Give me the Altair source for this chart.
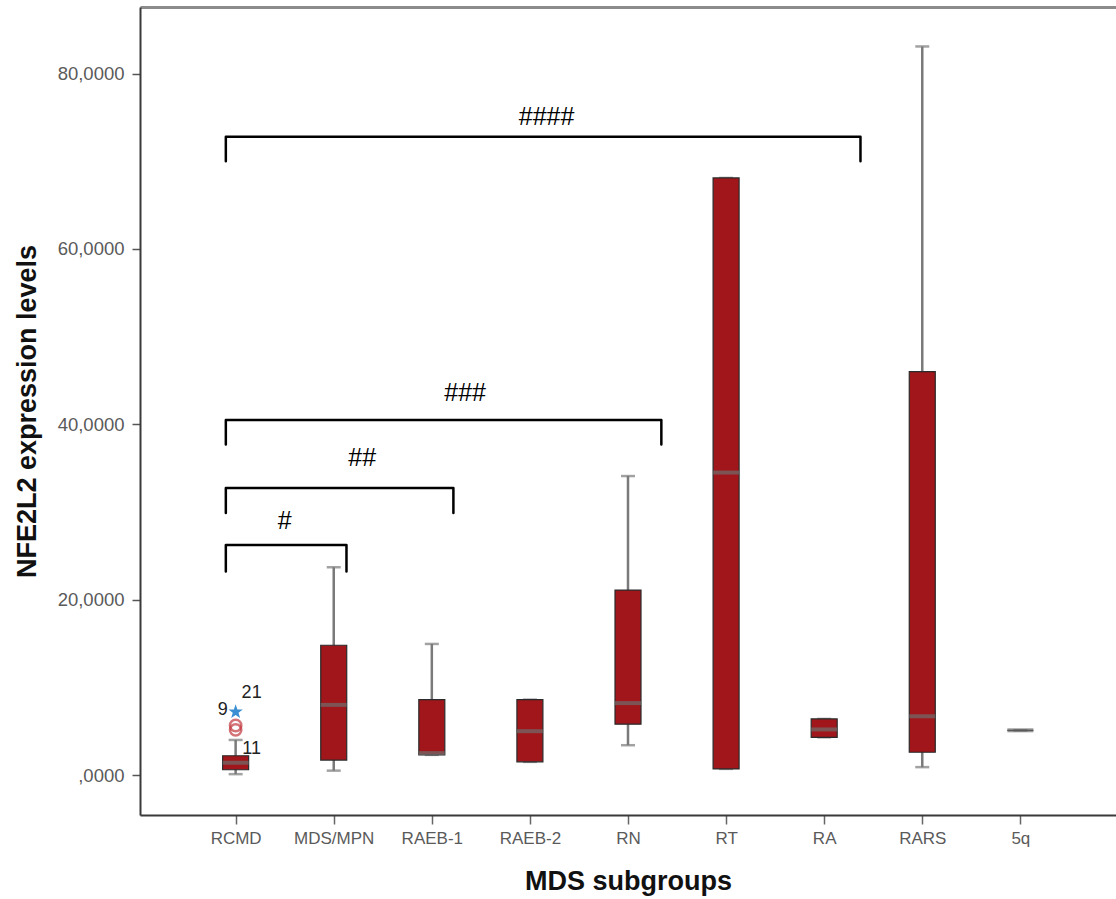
import altair as alt
import pandas as pd

# Box-plot summary per MDS subgroup
groups = ["RCMD", "MDS/MPN", "RAEB-1", "RAEB-2", "RN", "RT", "RA", "RARS", "5q"]
whisker_low = [0.1, 0.5, 2.3, 1.5, 3.4, 0.7, 4.3, 0.9, 5.1]
box_q1 = [0.6, 1.7, 2.3, 1.5, 5.8, 0.7, 4.3, 2.6, 5.1]
box_median = [1.4, 8.0, 2.5, 5.0, 8.2, 34.5, 5.2, 6.7, 5.1]
box_q3 = [2.2, 14.8, 8.6, 8.6, 21.1, 68.1, 6.4, 46.0, 5.1]
whisker_high = [4.0, 23.7, 14.95, 8.6, 34.1, 68.1, 6.4, 83.1, 5.1]

# Outliers (circles) and extreme values (stars)
outlier_group = ["RCMD", "RCMD"]
outlier_values = [5.15, 5.65]
extreme_group = ["RCMD"]
extreme_values = [7.2]

# Case numbers printed next to the RCMD outliers
case_labels = ["9", "21", "11"]
case_values = [7.2, 7.2, 5.4]

# Significance brackets (x in subgroup-index units)
bracket_labels = ["#", "##", "###", "####"]
bracket_left = [-0.10, -0.10, -0.10, -0.10]
bracket_right = [1.13, 2.22, 4.34, 6.37]
bracket_top = [26.25, 32.75, 40.5, 72.8]
bracket_foot = [23.2, 29.9, 37.7, 70.0]
bracket_label_x = [0.50, 1.29, 2.34, 3.17]
bracket_label_y = [29.0, 36.2, 43.6, 75.1]

FONT = "Liberation Sans, Arial, sans-serif"
PAD = 0.975
W, H = 976, 808

yscale = alt.Scale(domain=[-4.56, 87.6], nice=False, zero=False)
y_axis = alt.Axis(
    title="NFE2L2 expression levels",
    values=[0, 20, 40, 60, 80],
    labelExpr="datum.value == 0 ? ',0000' : replace(format(datum.value, '.4f'), '.', ',')",
    grid=False, tickSize=8, tickColor="#555555", tickWidth=1.5,
    domainColor="#3a3a3a", domainWidth=2,
    labelFont=FONT, labelFontSize=18.5, labelColor="#5a5a5a", labelPadding=8,
    titleFont=FONT, titleFontSize=27, titleFontWeight="bold", titleColor="#111111",
    titlePadding=16,
)
xscale = alt.Scale(type="point", domain=groups, padding=PAD)
x_axis = alt.Axis(
    title="MDS subgroups", labelAngle=0, grid=False,
    tickSize=9, tickColor="#666666", tickWidth=1.5,
    domainColor="#3a3a3a", domainWidth=2,
    labelFont=FONT, labelFontSize=17, labelColor="#5a5a5a", labelPadding=6,
    titleFont=FONT, titleFontSize=27, titleFontWeight="bold", titleColor="#111111",
    titlePadding=22,
)


def X():
    return alt.X("group:N", scale=xscale, axis=x_axis, sort=groups)


def Y(field):
    return alt.Y(field, type="quantitative", scale=yscale, axis=y_axis)


box_df = pd.DataFrame({
    "group": groups, "low": whisker_low, "q1": box_q1,
    "median": box_median, "q3": box_q3, "high": whisker_high,
})
base = alt.Chart(box_df)

whiskers = base.mark_rule(color="#7a7a7a", strokeWidth=2.5).encode(
    x=X(), y=Y("low"), y2="high:Q")
caps_low = base.mark_tick(color="#7a7a7a", size=14, thickness=2.5).encode(x=X(), y=Y("low"))
caps_high = base.mark_tick(color="#7a7a7a", size=14, thickness=2.5).encode(x=X(), y=Y("high"))
boxes = base.mark_bar(size=26, color="#a0161a", stroke="#2b2b2b", strokeWidth=1.2).encode(
    x=X(), y=Y("q1"), y2="q3:Q")
medians = base.mark_tick(size=26, thickness=4, color="#6e6e6e").encode(x=X(), y=Y("median"))

out_df = pd.DataFrame({"group": outlier_group, "value": outlier_values})
circles = alt.Chart(out_df).mark_point(
    shape="circle", filled=False, color="#c23a40", strokeWidth=2.5, size=130
).encode(x=X(), y=Y("value"))

STAR = ("M0,-1L0.235,-0.324L0.951,-0.309L0.38,0.124L0.588,0.809L0,0.4"
        "L-0.588,0.809L-0.38,0.124L-0.951,-0.309L-0.235,-0.324Z")
ext_df = pd.DataFrame({"group": extreme_group, "value": extreme_values})
stars = alt.Chart(ext_df).mark_point(
    shape=STAR, filled=True, color="#3b8fd3", size=230, opacity=1
).encode(x=X(), y=Y("value"))

label_offsets = [(-13, -2), (16, -19), (16, 21)]
case_layers = []
for lab, val, (ddx, ddy) in zip(case_labels, case_values, label_offsets):
    df = pd.DataFrame({"group": ["RCMD"], "value": [val], "lab": [lab]})
    case_layers.append(
        alt.Chart(df).mark_text(font=FONT, fontSize=18, color="#222222", dx=ddx, dy=ddy)
        .encode(x=X(), y=Y("value"), text="lab:N")
    )

data_layer = alt.layer(whiskers, caps_low, caps_high, boxes, medians, circles, stars, *case_layers)

# Brackets drawn as 4-point polylines
rows = []
for i, lab in enumerate(bracket_labels):
    pts = [(bracket_left[i], bracket_foot[i]), (bracket_left[i], bracket_top[i]),
           (bracket_right[i], bracket_top[i]), (bracket_right[i], bracket_foot[i])]
    for k, (bx, by) in enumerate(pts):
        rows.append({"bracket": lab, "step": k, "bx": bx, "by": by})
brk_df = pd.DataFrame(rows)
bx_scale = alt.Scale(domain=[-PAD, len(groups) - 1 + PAD], nice=False, zero=False)
top_axis = alt.Axis(orient="top", labels=False, ticks=False, grid=False, title=None,
                    domainColor="#8c8c8c", domainWidth=3)

brackets = alt.Chart(brk_df).mark_line(
    color="black", strokeWidth=2.5, strokeJoin="round", strokeCap="round"
).encode(
    x=alt.X("bx:Q", scale=bx_scale, axis=top_axis),
    y=Y("by"),
    detail="bracket:N",
    order="step:Q",
)
lab_df = pd.DataFrame({"lx": bracket_label_x, "ly": bracket_label_y, "lab": bracket_labels})
bracket_text = alt.Chart(lab_df).mark_text(font=FONT, fontSize=25, color="black").encode(
    x=alt.X("lx:Q", scale=bx_scale, axis=top_axis),
    y=Y("ly"),
    text="lab:N",
)
annot_layer = alt.layer(brackets, bracket_text)

chart = (
    alt.layer(data_layer, annot_layer)
    .resolve_scale(x="independent")
    .properties(width=W, height=H, autosize="none",
                padding={"left": 140, "top": 7, "right": 0, "bottom": 84})
    .configure_view(stroke=None)
    .configure(background="white")
)

chart.save("out.html", embed_options={"renderer": "svg", "actions": False})
